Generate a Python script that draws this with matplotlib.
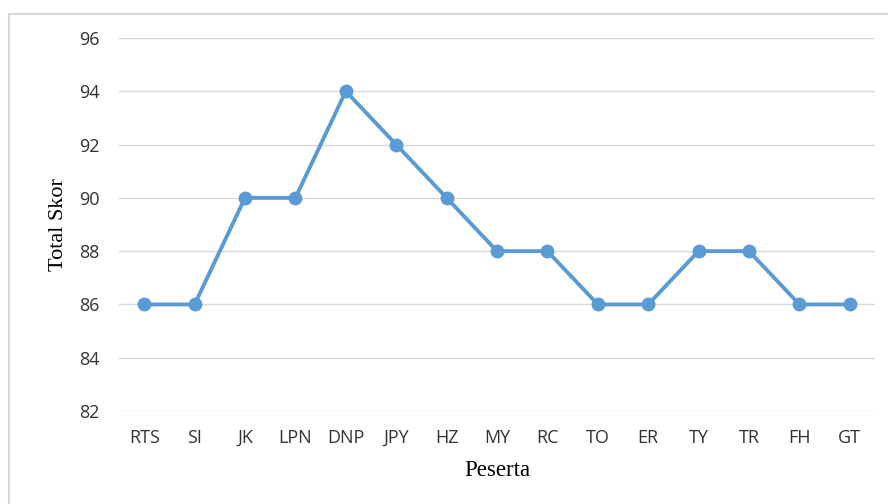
import matplotlib
matplotlib.use("Agg")
import matplotlib.pyplot as plt
from matplotlib.patches import Rectangle

peserta = ["RTS", "SI", "JK", "LPN", "DNP", "JPY", "HZ", "MY", "RC", "TO", "ER", "TY", "TR", "FH", "GT"]
skor = [86, 86, 90, 90, 94, 92, 90, 88, 88, 86, 86, 88, 88, 86, 86]
yticks = [82, 84, 86, 88, 90, 92, 94, 96]

fig = plt.figure(figsize=(8.88, 5.04), dpi=100)
ax = fig.add_axes([119/888, 1 - 411/504, (875 - 119)/888, (411 - 38)/504])

# outer chart border (only top/left visible, rest cropped)
fig.patches.append(Rectangle((9/888, -0.1), 1.2, 1.1 - 14/504, transform=fig.transFigure,
                             fill=False, edgecolor="#D9D9D9", linewidth=1.5))

x = list(range(len(peserta)))
ax.plot(x, skor, color="#5B9BD5", linewidth=2.8, marker="o", markersize=9, zorder=3)

ax.set_xlim(-0.5, len(peserta) - 0.5)
ax.set_ylim(82, 96)
ax.set_yticks(yticks)
ax.set_xticks(x)
ax.set_xticklabels(peserta)
ax.grid(axis="y", color="#D9D9D9", linewidth=1)
ax.set_axisbelow(True)
for s in ax.spines.values():
    s.set_visible(False)
ax.tick_params(length=0, labelsize=13, labelcolor="#333333")
for lab in ax.get_xticklabels() + ax.get_yticklabels():
    lab.set_fontfamily("Open Sans")
ax.tick_params(axis="y", pad=14)
ax.tick_params(axis="x", pad=13)

ax.set_xlabel("Peserta", fontfamily="Liberation Serif", fontsize=16.5, labelpad=9)
ax.set_ylabel("Total Skor", fontfamily="Liberation Serif", fontsize=16, labelpad=8)

fig.savefig("out.png", dpi=100)
